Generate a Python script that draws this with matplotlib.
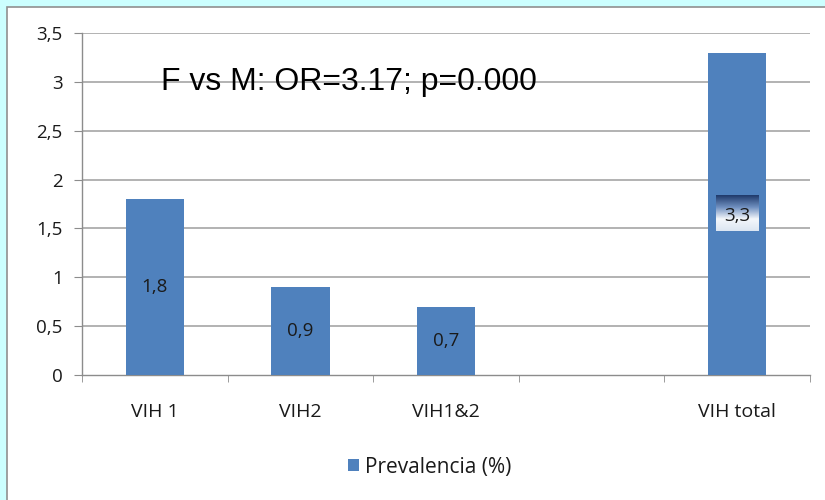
import matplotlib
matplotlib.use("Agg")
import matplotlib.pyplot as plt
from matplotlib.patches import Rectangle
from matplotlib.colors import LinearSegmentedColormap
import numpy as np

categories = ["VIH 1", "VIH2", "VIH1&2", "", "VIH total"]
values = [1.8, 0.9, 0.7, None, 3.3]
value_labels = ["1,8", "0,9", "0,7", "", "3,3"]
y_ticks = [0, 0.5, 1, 1.5, 2, 2.5, 3, 3.5]
y_tick_labels = ["0", "0,5", "1", "1,5", "2", "2,5", "3", "3,5"]
series_name = "Prevalencia (%)"
annotation = "F vs M: OR=3.17; p=0.000"

plt.rcParams['font.family'] = ['Open Sans', 'DejaVu Sans']

fig = plt.figure(figsize=(8.25, 5), dpi=100)
fig.patch.set_facecolor('#CCFFFF')

# background axes with white chart frame
bg = fig.add_axes([0, 0, 1, 1], zorder=-10)
bg.set_xlim(0, 825)
bg.set_ylim(500, 0)
bg.axis('off')
bg.add_patch(Rectangle((7, 7), 830, 500, facecolor='white', edgecolor='#909090', linewidth=1.2))

ax = fig.add_axes([82/825, 0.25, (810-82)/825, (375-33)/500], zorder=1)
ax.patch.set_alpha(0)

x = np.arange(len(categories))
bar_color = '#4F81BD'
for xi, v in zip(x, values):
    if v is not None:
        ax.bar(xi, v, width=0.4, color=bar_color, zorder=3, label=series_name if xi == 0 else None)

fs = 13.5
ax.set_yticks(y_ticks)
ax.set_yticklabels(y_tick_labels, fontsize=fs, color='#1A1A1A')
ax.set_xticks(x)
ax.set_xticklabels(categories, fontsize=14, color='#1A1A1A')
ax.tick_params(axis='x', length=0, pad=20)
ax.set_xticks(np.arange(len(categories) + 1) - 0.5, minor=True)
ax.tick_params(axis='x', which='minor', length=5, color='#8C8C8C', direction='out')
ax.tick_params(axis='y', length=6, color='#8C8C8C', direction='out', pad=8)

for yt in y_ticks[1:]:
    ax.axhline(yt, color='#A6A6A6', linewidth=1.2, zorder=1)

for s in ['top', 'right']:
    ax.spines[s].set_visible(False)
for s in ['left', 'bottom']:
    ax.spines[s].set_color('#8C8C8C')
    ax.spines[s].set_linewidth(1.0)

cmap = LinearSegmentedColormap.from_list('g', ['#1F3A6B', '#6F8FBF', '#F4F7FB', '#DCE6F2'])
for xi, v, lab in zip(x, values, value_labels):
    if v is None:
        continue
    if xi == 4:
        grad = np.linspace(0, 1, 100).reshape(-1, 1)
        ax.imshow(grad, extent=[xi - 0.145, xi + 0.145, v/2 - 0.18, v/2 + 0.18],
                  cmap=cmap, aspect='auto', zorder=4, origin='upper', vmin=0, vmax=1)
        ax.text(xi, v/2 - 0.02, lab, ha='center', va='center', fontsize=fs, color='#1A1A1A', zorder=5)
    else:
        ax.text(xi, v/2, lab, ha='center', va='center', fontsize=fs, color='#1A1A1A', zorder=5)
ax.set_xlim(-0.5, len(categories) - 0.5)
ax.set_ylim(0, 3.5)

ax.text(0.043, 3.0, annotation, fontsize=23,
        family=['Liberation Sans', 'DejaVu Sans'], color='black', ha='left', va='center', zorder=6)

leg = fig.legend(loc='center', bbox_to_anchor=(0.521, 1 - 467/500), frameon=False,
                 fontsize=15, handlelength=0.55, handleheight=0.55, handletextpad=0.3)
for t in leg.get_texts():
    t.set_color('#1A1A1A')

fig.savefig('out.png', dpi=100, facecolor=fig.get_facecolor())
